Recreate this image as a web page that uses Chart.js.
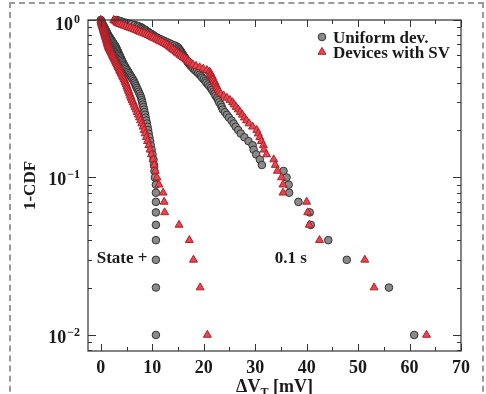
<!DOCTYPE html>
<html><head><meta charset="utf-8">
<script src="https://cdn.jsdelivr.net/npm/chart.js@4.4.0/dist/chart.umd.min.js"></script>
<style>
html,body{margin:0;padding:0;background:#fff;}
#wrap{position:relative;width:486px;height:394px;overflow:hidden;}
#frame{position:absolute;left:9px;top:2px;width:475px;height:410px;border:2px dashed #9a9a9a;box-sizing:border-box;pointer-events:none}
canvas{position:absolute;left:0;top:0}
</style></head><body>
<div id="wrap"><canvas id="c" width="486" height="394"></canvas><div id="frame"></div></div>
<script>
// 1-CDF levels (shared by all curves)
const levels = [
1.00,0.99,0.98,0.97,0.96,0.95,0.94,0.93,0.92,0.91,
0.90,0.89,0.88,0.87,0.86,0.85,0.84,0.83,0.82,0.81,
0.80,0.79,0.78,0.77,0.76,0.75,0.74,0.73,0.72,0.71,
0.70,0.69,0.68,0.67,0.66,0.65,0.64,0.63,0.62,0.61,
0.60,0.59,0.58,0.57,0.56,0.55,0.54,0.53,0.52,0.51,
0.50,0.49,0.48,0.47,0.46,0.45,0.44,0.43,0.42,0.41,
0.40,0.39,0.38,0.37,0.36,0.35,0.34,0.33,0.32,0.31,
0.30,0.29,0.28,0.27,0.26,0.25,0.24,0.23,0.22,0.21,
0.20,0.19,0.18,0.17,0.16,0.15,0.14,0.13,0.12,0.11,
0.10,0.09,0.08,0.07,0.06,0.05,0.04,0.03,0.02,0.01];

// Uniform dev., State + (mV)
const uniformStatePlus = [
0.0,0.05,0.1,0.15,0.2,0.25,0.3,0.4,0.47,0.55,
0.62,0.7,0.77,0.85,0.93,1.0,1.1,1.17,1.26,1.34,
1.44,1.54,1.65,1.76,1.88,2.0,2.1,2.2,2.34,2.45,
2.57,2.7,2.82,2.94,3.02,3.12,3.2,3.3,3.4,3.5,
3.6,3.7,3.8,3.9,4.0,4.13,4.24,4.36,4.5,4.65,
4.8,4.96,5.13,5.3,5.47,5.65,5.83,6.0,6.2,6.4,
6.55,6.7,6.85,7.0,7.18,7.35,7.52,7.7,7.84,7.95,
8.05,8.15,8.27,8.38,8.48,8.6,8.7,8.82,8.95,9.06,
9.18,9.3,9.43,9.57,9.71,9.87,10.04,10.23,10.33,10.42,
10.5,10.7,10.7,10.7,10.7,10.7,10.7,10.7,10.7,10.7];

// Devices with SV, State + (mV)
const svStatePlus = [
0.0,0.04,0.07,0.1,0.14,0.17,0.21,0.26,0.3,0.35,
0.39,0.43,0.47,0.52,0.56,0.6,0.65,0.7,0.75,0.79,
0.84,0.88,0.94,0.99,1.04,1.09,1.14,1.19,1.25,1.3,
1.35,1.41,1.47,1.54,1.63,1.74,1.83,1.93,2.04,2.14,
2.24,2.34,2.46,2.57,2.7,2.8,2.93,3.05,3.17,3.29,
3.41,3.54,3.67,3.8,3.94,4.08,4.23,4.37,4.51,4.67,
4.79,4.92,5.05,5.18,5.32,5.45,5.6,5.74,5.9,6.07,
6.26,6.45,6.65,6.86,7.06,7.28,7.5,7.72,7.96,8.2,
8.42,8.63,8.85,9.07,9.32,9.57,9.83,10.14,10.35,10.58,
10.9,11.3,12.1,12.3,12.4,15.2,17.2,18.0,19.3,20.7];

// Uniform dev., 0.1 s (mV)
const uniformSlow = [
3.1,3.5,3.9,4.3,4.9,5.4,6.0,6.6,7.1,7.4,
7.8,8.0,8.2,8.5,8.7,8.9,9.2,9.4,9.7,9.9,
10.2,10.4,10.7,11.0,11.4,11.8,12.2,12.6,13.0,13.4,
13.8,14.3,14.7,15.0,15.1,15.3,15.4,15.6,15.7,15.8,
16.0,16.1,16.3,16.4,16.6,16.8,16.9,17.1,17.3,17.5,
17.8,18.0,18.3,18.6,18.9,19.2,19.5,19.7,20.0,20.3,
20.5,20.8,21.1,21.4,21.6,21.9,22.1,22.3,22.6,22.8,
23.0,23.3,23.5,23.7,24.1,24.5,24.9,25.4,25.8,26.2,
26.7,27.2,27.9,28.7,29.5,29.7,30.2,30.9,31.3,35.5,
36.1,36.5,36.6,38.4,40.6,40.8,44.2,47.8,56.0,60.9];

// Devices with SV, 0.1 s (mV)
const svSlow = [
2.5,2.7,2.9,3.1,3.2,3.4,3.7,4.1,4.5,4.9,
5.3,5.7,6.1,6.5,6.9,7.3,7.6,8.0,8.4,8.8,
9.2,9.6,9.9,10.2,10.6,10.9,11.3,11.6,12.0,12.3,
12.7,13.0,13.3,13.5,13.8,14.0,14.3,14.6,14.8,15.1,
15.4,15.7,16.0,16.3,16.6,16.9,17.2,17.6,17.9,18.5,
19.2,19.9,20.6,21.1,21.3,21.4,21.6,21.7,21.8,22.0,
22.2,22.3,22.5,22.6,22.8,23.0,23.3,23.9,24.5,25.1,
25.6,25.9,26.3,26.7,27.1,27.5,27.9,28.3,28.8,29.5,
30.3,30.6,30.9,31.2,31.6,31.7,32.2,33.6,33.9,34.3,
35.1,35.4,35.4,40.0,40.2,40.5,42.5,51.3,53.1,63.3];

const xMajorTicks = [0,10,20,30,40,50,60,70];
const xMinorTicks = [5,15,25,35,45,55,65];
const yMajorTicks = [1,0.1,0.01];
const yMinorTicks = [0.9,0.8,0.7,0.6,0.5,0.4,0.3,0.2,0.09,0.08,0.07,0.06,0.05,0.04,0.03,0.02,0.009,0.008];
const legendLabels = ['Uniform dev.','Devices with SV'];
const annotations = [{text:'State +', x:-0.8, y:0.0286},{text:'0.1 s', x:33.8, y:0.0286}];

const SERIF = '"Liberation Serif","DejaVu Serif",serif';
const toPts = arr => levels.map((p,i)=>({x:arr[i], y:p}));
const grayStyle = {pointStyle:'circle', pointRadius:3.8, backgroundColor:'#8a8a8a', borderColor:'#333333', borderWidth:1};
const redStyle = {pointStyle:'triangle', pointRadius:4.6, backgroundColor:'#e6474e', borderColor:'#b01e28', borderWidth:1};

const decor = {
  id:'decor',
  afterDatasetsDraw(chart){
    const ctx = chart.ctx, a = chart.chartArea;
    const xs = chart.scales.x, ys = chart.scales.y;
    ctx.save();
    ctx.strokeStyle = '#333'; ctx.lineWidth = 1.2;
    ctx.strokeRect(a.left, a.top, a.right-a.left, a.bottom-a.top);
    ctx.lineWidth = 1;
    ctx.beginPath();
    const tx = (v,len)=>{const p=Math.round(xs.getPixelForValue(v))+0.5;
      ctx.moveTo(p,a.bottom); ctx.lineTo(p,a.bottom-len);
      ctx.moveTo(p,a.top); ctx.lineTo(p,a.top+len);};
    const ty = (v,len)=>{const p=Math.round(ys.getPixelForValue(v))+0.5;
      ctx.moveTo(a.left,p); ctx.lineTo(a.left+len,p);
      ctx.moveTo(a.right,p); ctx.lineTo(a.right-len,p);};
    xMajorTicks.forEach(v=>tx(v,7)); xMinorTicks.forEach(v=>tx(v,4));
    yMajorTicks.forEach(v=>ty(v,8)); yMinorTicks.forEach(v=>ty(v,4));
    ctx.stroke();

    ctx.fillStyle = '#1a1a1a';
    // x tick labels
    ctx.font = 'bold 18px '+SERIF; ctx.textAlign='center'; ctx.textBaseline='alphabetic';
    xMajorTicks.forEach(v=>ctx.fillText(String(v), xs.getPixelForValue(v), a.bottom+22));
    // y tick labels 10^n
    ctx.textAlign='left';
    yMajorTicks.forEach(v=>{
      const e = Math.round(Math.log10(v));
      const exp = e===0 ? '0' : '\u2212'+Math.abs(e);
      const py = ys.getPixelForValue(v);
      ctx.font='bold 18px '+SERIF; const bw=ctx.measureText('10').width;
      ctx.font='bold 12px '+SERIF; const ew=ctx.measureText(exp).width;
      const right = a.left-8; const x0 = right-ew-bw-1;
      const base = py+ (e===0?10:8);
      ctx.font='bold 18px '+SERIF; ctx.fillText('10', x0, base);
      ctx.font='bold 12px '+SERIF; ctx.fillText(exp, x0+bw+1, base-7);
    });
    // x title: ΔV_T [mV]
    ctx.font='bold 18px '+SERIF;
    const w1=ctx.measureText('\u0394V').width, w3=ctx.measureText(' [mV]').width;
    ctx.font='bold 12px '+SERIF; const w2=ctx.measureText('T').width;
    const cx=(a.left+a.right)/2, tb=a.bottom+41;
    let x0=cx-(w1+w2+w3)/2;
    ctx.font='bold 18px '+SERIF; ctx.fillText('\u0394V', x0, tb);
    ctx.font='bold 12px '+SERIF; ctx.fillText('T', x0+w1, tb+4);
    ctx.font='bold 18px '+SERIF; ctx.fillText(' [mV]', x0+w1+w2, tb);
    // y title
    ctx.save(); ctx.translate(35, (a.top+a.bottom)/2); ctx.rotate(-Math.PI/2);
    ctx.textAlign='center'; ctx.font='bold 17px '+SERIF; ctx.fillText('1-CDF',0,0); ctx.restore();
    // annotations
    ctx.font='bold 17px '+SERIF; ctx.textAlign='left';
    annotations.forEach(t=>ctx.fillText(t.text, xs.getPixelForValue(t.x), ys.getPixelForValue(t.y)));
    // legend
    const lx=a.right-139, ly=[a.top+17, a.top+32];
    [grayStyle, redStyle].forEach((s,i)=>{
      ctx.fillStyle=s.backgroundColor; ctx.strokeStyle=s.borderColor; ctx.lineWidth=s.borderWidth;
      Chart.helpers.drawPoint(ctx,{pointStyle:s.pointStyle, radius:s.pointRadius, rotation:0, borderWidth:s.borderWidth}, lx, ly[i]);
      ctx.fillStyle='#1a1a1a'; ctx.font='bold 17px '+SERIF;
      ctx.fillText(legendLabels[i], lx+11, ly[i]+6);
    });
    ctx.restore();
  }
};

new Chart(document.getElementById('c'), {
  type:'scatter',
  data:{datasets:[
    Object.assign({label:'Uniform dev. State +', data:toPts(uniformStatePlus), order:2, clip:false}, grayStyle),
    Object.assign({label:'Uniform dev. 0.1 s', data:toPts(uniformSlow), order:2, clip:false}, grayStyle),
    Object.assign({label:'Devices with SV State +', data:toPts(svStatePlus), order:1, clip:false}, redStyle),
    Object.assign({label:'Devices with SV 0.1 s', data:toPts(svSlow), order:1, clip:false}, redStyle)
  ]},
  options:{
    responsive:false, animation:false, devicePixelRatio:1,
    layout:{padding:{left:88, top:20, right:25, bottom:43}},
    plugins:{legend:{display:false}, tooltip:{enabled:false}},
    scales:{
      x:{type:'linear', min:-2.5, max:70, display:false},
      y:{type:'logarithmic', min:0.00791, max:1, display:false}
    }
  },
  plugins:[decor]
});
</script>
</body></html>
